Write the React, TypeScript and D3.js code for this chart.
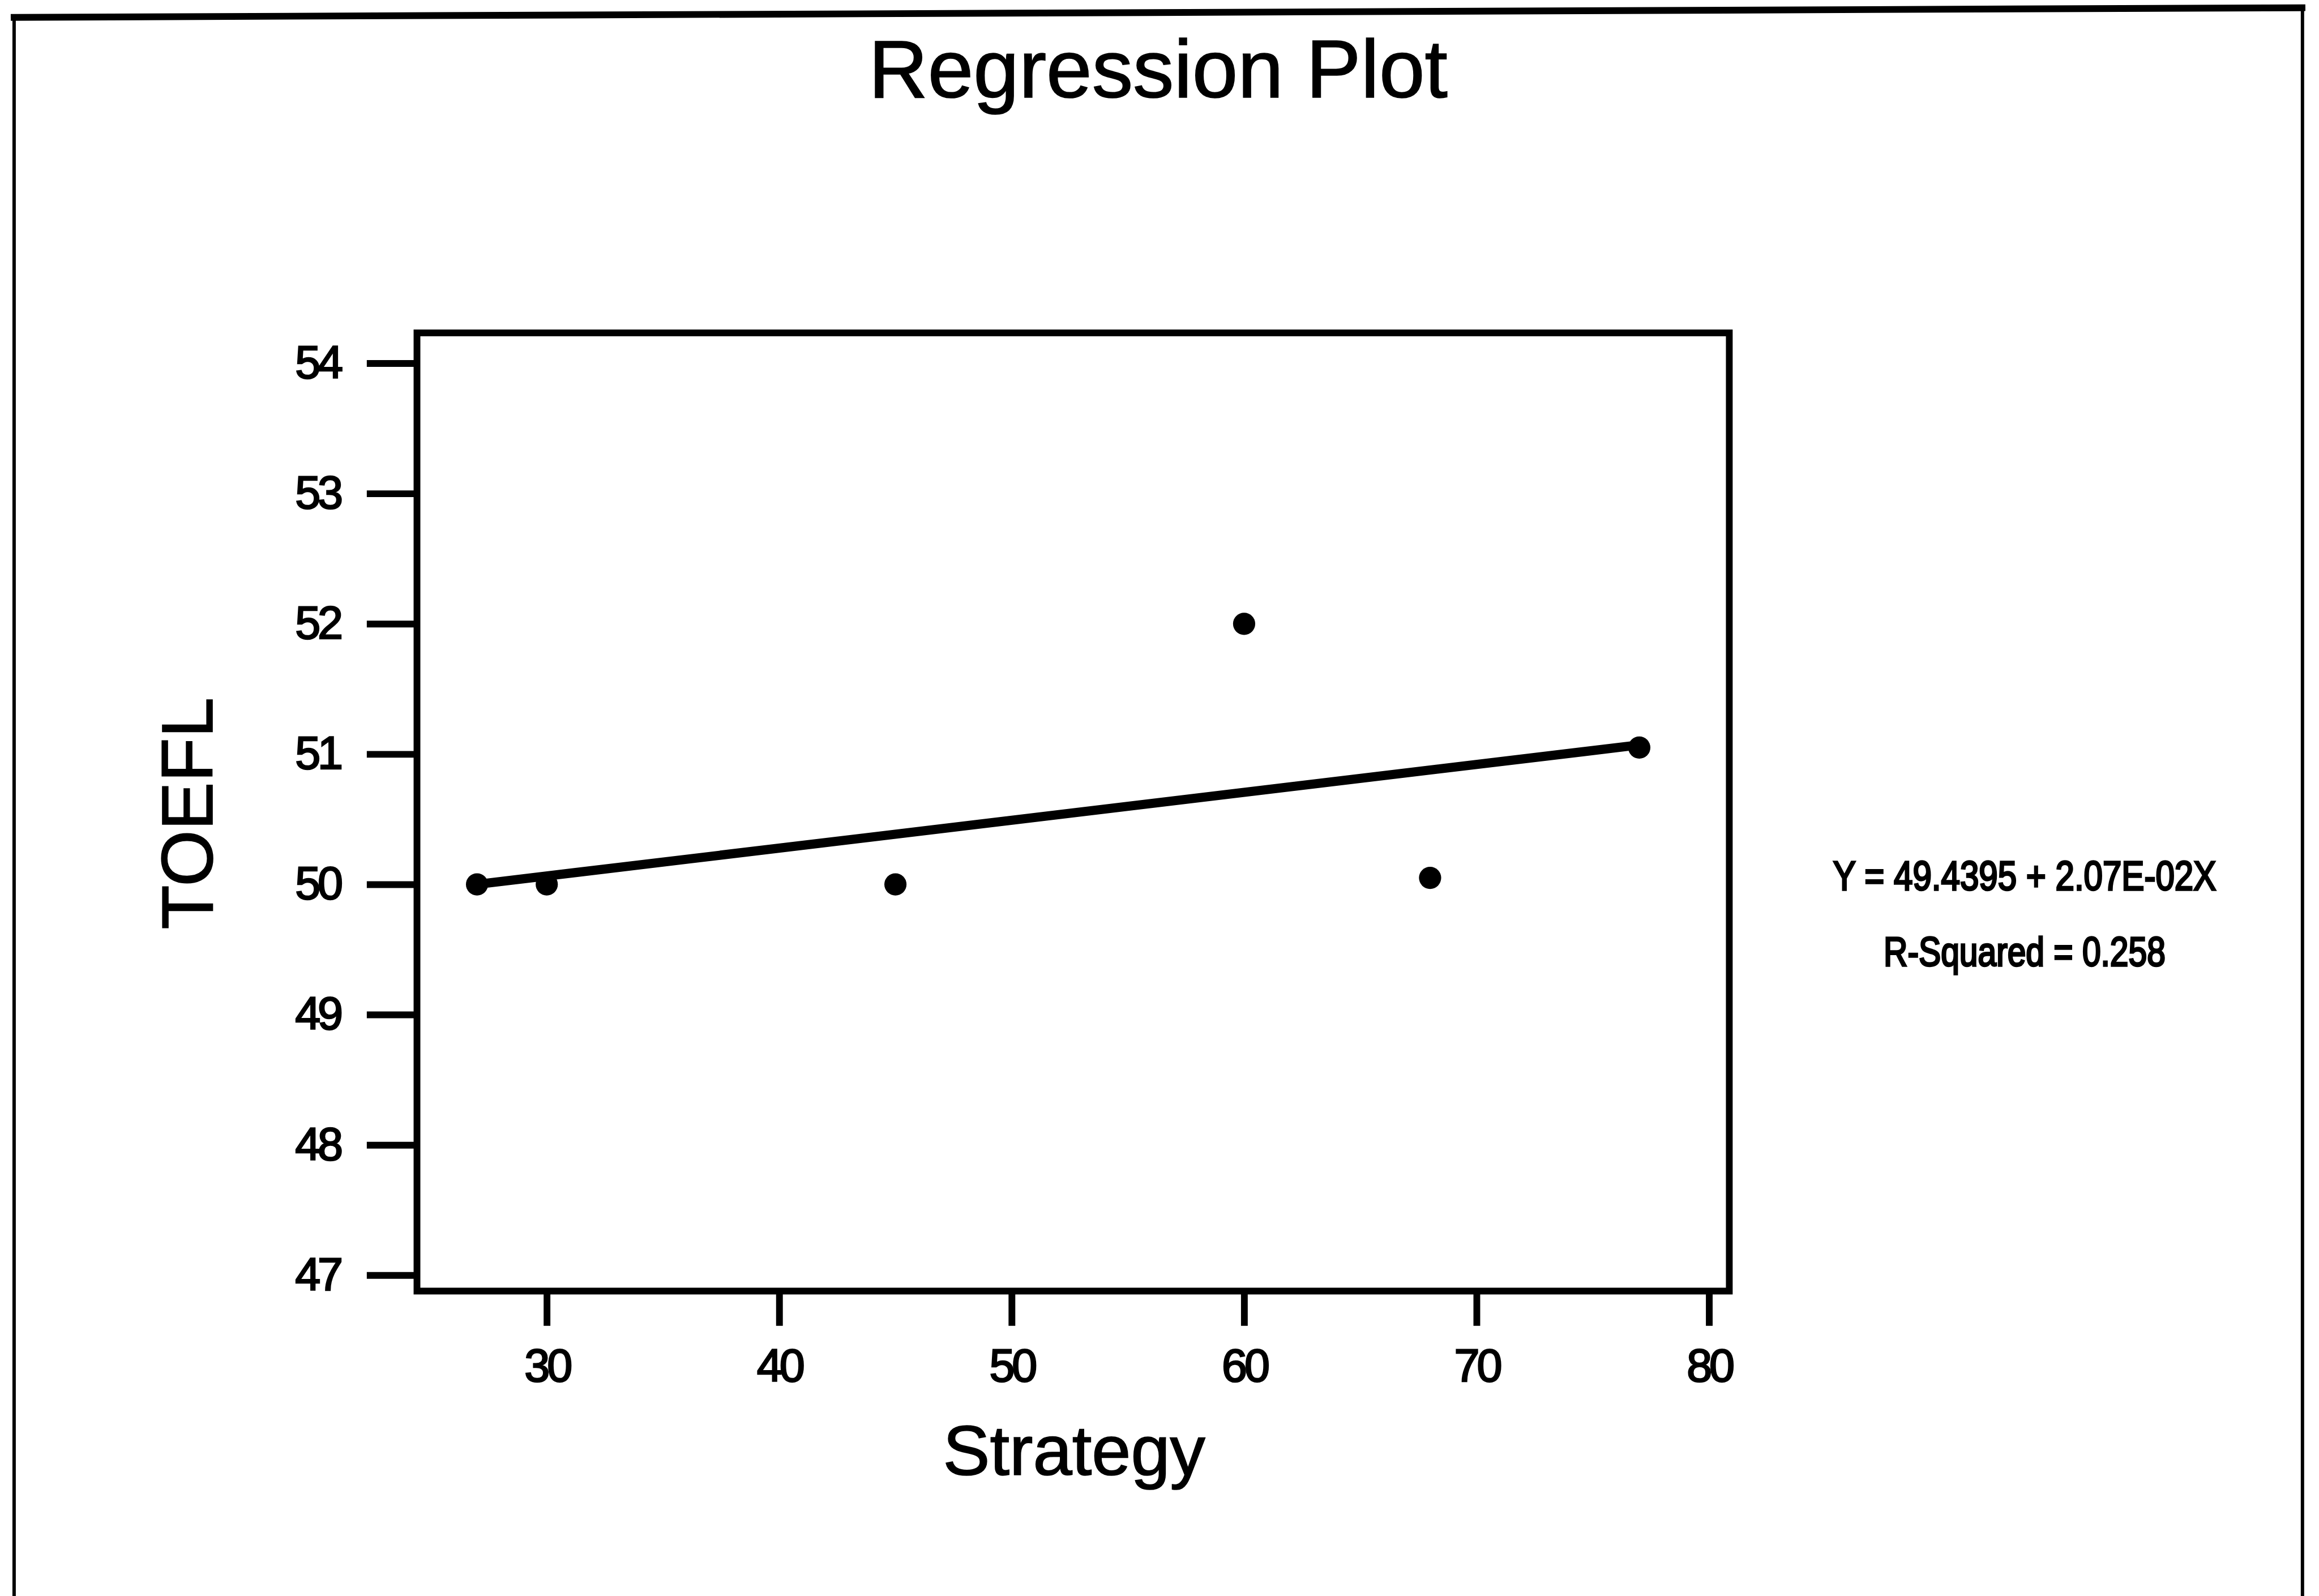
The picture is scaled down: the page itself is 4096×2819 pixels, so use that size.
import { useEffect, useRef } from 'react';
import * as d3 from 'd3';

// Data
const strategy = [27, 30, 45, 60, 68, 77];
const toefl = [50, 50, 50, 52, 50.05, 51.05];
const fitX = [27, 77];
const fitY = [50.0, 51.07];
const xTicks = [30, 40, 50, 60, 70, 80];
const yTicks = [47, 48, 49, 50, 51, 52, 53, 54];
const equationLines = ['Y = 49.4395 + 2.07E-02X', 'R-Squared = 0.258'];

// drawn in reference units, the viewBox scales to the window
const REF_W = 4806;
const REF_H = 3308;
const FONT = '"Liberation Sans", Arial, Helvetica, sans-serif';

export default function App() {
  const svgRef = useRef<SVGSVGElement>(null);

  useEffect(() => {
    if (!svgRef.current) return;
    const svg = d3.select(svgRef.current);
    svg.selectAll('*').remove();

    const box = { left: 864, right: 3584, top: 690, bottom: 2676 };

    const x = d3.scaleLinear().domain([24.417, 80.872]).range([box.left, box.right]);
    const y = d3.scaleLinear().domain([46.878, 54.233]).range([box.bottom, box.top]);

    // page border (scan edge)
    svg.append('line')
      .attr('x1', 22).attr('y1', 36).attr('x2', 4778).attr('y2', 16)
      .attr('stroke', '#000').attr('stroke-width', 14);
    svg.append('line')
      .attr('x1', 29).attr('y1', 30).attr('x2', 29).attr('y2', REF_H)
      .attr('stroke', '#000').attr('stroke-width', 7);
    svg.append('line')
      .attr('x1', 4772).attr('y1', 16).attr('x2', 4772).attr('y2', REF_H)
      .attr('stroke', '#000').attr('stroke-width', 7);

    // title
    svg.append('text')
      .attr('x', 2400)
      .attr('y', 202)
      .attr('text-anchor', 'middle')
      .attr('font-family', FONT)
      .attr('font-size', 170)
      .attr('fill', '#000')
      .attr('stroke', '#000')
      .attr('stroke-width', 2)
      .text('Regression Plot');

    // plot frame
    svg.append('rect')
      .attr('x', box.left)
      .attr('y', box.top)
      .attr('width', box.right - box.left)
      .attr('height', box.bottom - box.top)
      .attr('fill', 'none')
      .attr('stroke', '#000')
      .attr('stroke-width', 14);

    // axes
    const yAxis = svg.append('g')
      .attr('transform', `translate(${box.left},0)`)
      .call(d3.axisLeft(y).tickValues(yTicks).tickSize(104).tickPadding(55).tickFormat(d3.format('d')));
    const xAxis = svg.append('g')
      .attr('transform', `translate(0,${box.bottom})`)
      .call(d3.axisBottom(x).tickValues(xTicks).tickSize(72).tickPadding(48).tickFormat(d3.format('d')));

    [yAxis, xAxis].forEach(ax => {
      ax.select('.domain').remove();
      ax.selectAll('.tick line')
        .attr('stroke', '#000')
        .attr('stroke-width', 14);
      ax.selectAll('.tick text')
        .attr('fill', '#000')
        .attr('stroke', '#000')
        .attr('stroke-width', 3)
        .attr('font-family', FONT)
        .attr('font-size', 95)
        .attr('letter-spacing', -6);
    });

    // axis titles
    svg.append('text')
      .attr('transform', 'translate(440,1686) rotate(-90)')
      .attr('text-anchor', 'middle')
      .attr('font-family', FONT)
      .attr('font-size', 150)
      .attr('fill', '#000')
      .attr('stroke', '#000')
      .attr('stroke-width', 2)
      .text('TOEFL');

    svg.append('text')
      .attr('x', 2226)
      .attr('y', 3057)
      .attr('text-anchor', 'middle')
      .attr('font-family', FONT)
      .attr('font-size', 146)
      .attr('fill', '#000')
      .attr('stroke', '#000')
      .attr('stroke-width', 2)
      .text('Strategy');

    // fitted line
    const line = d3.line<number>()
      .x(d => x(d))
      .y((d, i) => y(fitY[i]));
    svg.append('path')
      .attr('d', line(fitX) || '')
      .attr('fill', 'none')
      .attr('stroke', '#000')
      .attr('stroke-width', 19)
      .attr('stroke-linecap', 'round');

    // points
    svg.append('g')
      .selectAll('circle')
      .data(strategy)
      .join('circle')
      .attr('cx', d => x(d))
      .attr('cy', (d, i) => y(toefl[i]))
      .attr('r', 23)
      .attr('fill', '#000');

    // regression equation
    const eqLengths = [794, 584];
    const eqBaselines = [1845, 2002];
    equationLines.forEach((t, i) => {
      svg.append('text')
        .attr('x', 4196)
        .attr('y', eqBaselines[i])
        .attr('text-anchor', 'middle')
        .attr('font-family', FONT)
        .attr('font-size', 84)
        .attr('textLength', eqLengths[i])
        .attr('lengthAdjust', 'spacingAndGlyphs')
        .attr('fill', '#000')
        .attr('stroke', '#000')
        .attr('stroke-width', 4)
        .text(t);
    });
  }, []);

  return (
    <div style={{ position: 'absolute', left: 0, top: 0, width: 4096, height: 2819, background: '#fff' }}>
      <svg
        ref={svgRef}
        width={4096}
        height={2819}
        viewBox={`0 0 ${REF_W} ${REF_H}`}
        style={{ display: 'block' }}
      />
    </div>
  );
}
